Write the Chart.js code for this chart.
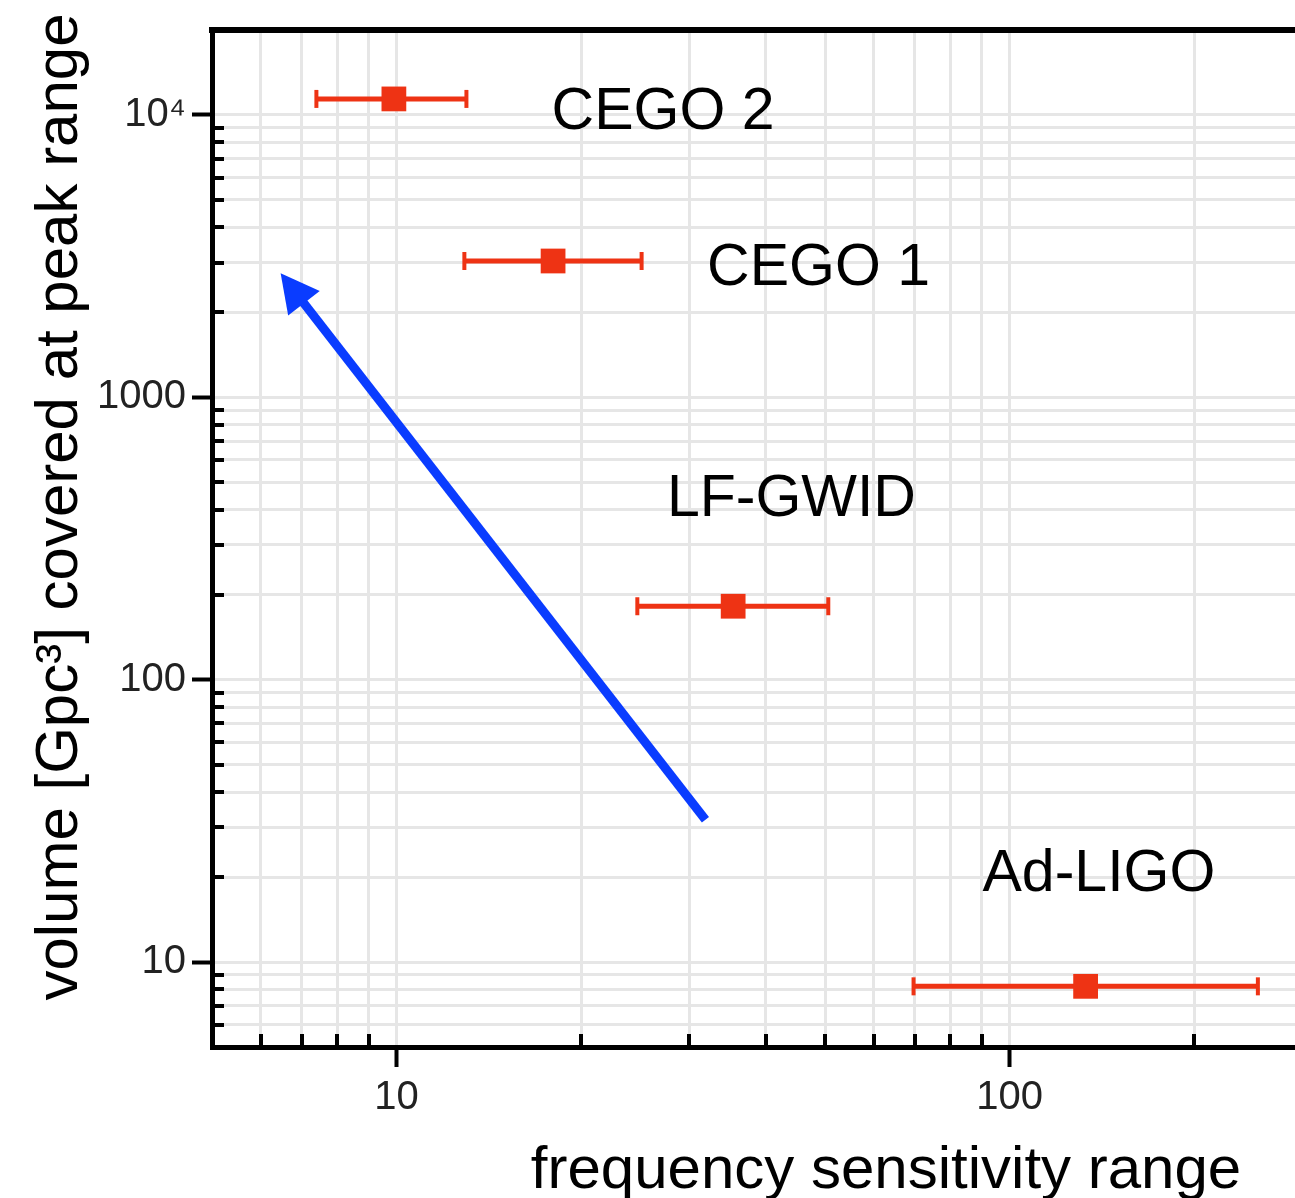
<!DOCTYPE html>
<html>
<head>
<meta charset="utf-8">
<title>volume vs frequency sensitivity range</title>
<script src="https://cdn.jsdelivr.net/npm/chart.js@4.4.1/dist/chart.umd.min.js"></script>
<style>
  html, body { margin: 0; padding: 0; background: #fff; overflow: hidden; }
  #wrap { width: 1295px; height: 1198px; position: relative; }
</style>
</head>
<body>
<div id="wrap"><canvas id="chart"></canvas></div>
<script>
// ── Data ────────────────────────────────────────────────────────────
const detectors  = ['CEGO 2', 'CEGO 1', 'LF-GWID', 'Ad-LIGO'];
const freqCenter = [9.9, 18.0, 35.4, 133];
const freqLow    = [7.4, 12.9, 24.7, 69.7];
const freqHigh   = [13.0, 25.1, 50.6, 254];
const volume     = [11400, 3040, 182, 8.2];

// text anchor (left edge, baseline) of each detector name, in data units
const labelFreq   = [17.9, 32.1, 27.6, 90.3];
const labelVolume = [8920, 2490, 379, 17.9];

// blue trend arrow: tail -> tip
const arrowFreq   = [31.9, 6.47];
const arrowVolume = [31.9, 2750];

const xTickValues = [10, 100];
const xTickLabels = ['10', '100'];
const yTickValues = [10, 100, 1000, 10000];
const yTickLabels = ['10', '100', '1000', '10\u2074'];

const xTitle = 'frequency sensitivity range';
const yTitle = 'volume [Gpc\u00B3] covered at peak range';

// ── Style ───────────────────────────────────────────────────────────
const RED = '#ee3314';
const BLUE = '#0a3cff';
const GRID = '#e6e6e6';
const FONT = "'Liberation Sans', Arial, sans-serif";

// ── Helpers ─────────────────────────────────────────────────────────
function logTicks(min, max) {
  const out = [];
  for (let d = Math.floor(Math.log10(min)); d <= Math.ceil(Math.log10(max)); d++) {
    for (let m = 1; m <= 9; m++) {
      const v = Number((m * Math.pow(10, d)).toPrecision(6));
      if (v >= min && v <= max) out.push(v);
    }
  }
  return out;
}
const isMajor = (v) => Math.abs(Math.log10(v) - Math.round(Math.log10(v))) < 1e-9;
const labelFor = (vals, labels) => (v) => {
  const i = vals.findIndex(t => Math.abs(t - v) < 1e-6 * t);
  return i < 0 ? '' : labels[i];
};

// ── Datasets ────────────────────────────────────────────────────────
const datasets = detectors.map((name, i) => ({
  label: name + ' range',
  type: 'line',
  data: [{ x: freqLow[i], y: volume[i] }, { x: freqHigh[i], y: volume[i] }],
  borderColor: RED,
  borderWidth: 5,
  pointStyle: 'line',
  rotation: 90,
  pointRadius: 9,
  pointBorderWidth: 4,
  pointBorderColor: RED,
  pointBackgroundColor: RED,
  order: 1,
}));
datasets.push({
  label: 'detectors',
  type: 'scatter',
  data: detectors.map((_, i) => ({ x: freqCenter[i], y: volume[i] })),
  pointStyle: 'rect',
  pointRadius: 17.5,
  borderWidth: 0,
  backgroundColor: RED,
  borderColor: RED,
  order: 0,
});

// ── Overlay: arrow, names, inner minor ticks, titles ────────────────
const overlay = {
  id: 'overlay',
  afterDatasetsDraw(chart) {
    const { ctx, scales: { x, y } } = chart;
    const x0 = x.getPixelForValue(arrowFreq[0]), y0 = y.getPixelForValue(arrowVolume[0]);
    const x1 = x.getPixelForValue(arrowFreq[1]), y1 = y.getPixelForValue(arrowVolume[1]);
    const len = Math.hypot(x1 - x0, y1 - y0);
    const ux = (x1 - x0) / len, uy = (y1 - y0) / len;
    const headLen = 38, headHalf = 20;
    const bx = x1 - ux * headLen, by = y1 - uy * headLen;
    ctx.save();
    ctx.strokeStyle = BLUE;
    ctx.lineWidth = 9;
    ctx.lineCap = 'butt';
    ctx.beginPath();
    ctx.moveTo(x0, y0);
    ctx.lineTo(bx + ux * 2, by + uy * 2);
    ctx.stroke();
    ctx.fillStyle = BLUE;
    ctx.beginPath();
    ctx.moveTo(x1, y1);
    ctx.lineTo(bx - uy * headHalf, by + ux * headHalf);
    ctx.lineTo(bx + uy * headHalf, by - ux * headHalf);
    ctx.closePath();
    ctx.fill();
    ctx.restore();
  },
  afterDraw(chart) {
    const { ctx, chartArea: a, scales: { x, y } } = chart;
    ctx.save();

    // top frame line
    ctx.strokeStyle = '#000';
    ctx.lineWidth = 6;
    ctx.beginPath();
    ctx.moveTo(a.left - 3, a.top);
    ctx.lineTo(chart.width, a.top);
    ctx.stroke();

    // minor ticks, pointing into the plot
    ctx.lineWidth = 4;
    ctx.beginPath();
    y.ticks.forEach(t => {
      if (isMajor(t.value) || t.value <= y.min || t.value >= y.max) return;
      const py = Math.round(y.getPixelForValue(t.value));
      ctx.moveTo(a.left, py);
      ctx.lineTo(a.left + 12, py);
    });
    x.ticks.forEach(t => {
      if (isMajor(t.value) || t.value <= x.min || t.value >= x.max) return;
      const px = Math.round(x.getPixelForValue(t.value));
      ctx.moveTo(px, a.bottom);
      ctx.lineTo(px, a.bottom - 13);
    });
    ctx.stroke();

    // detector names
    ctx.fillStyle = '#000';
    ctx.font = '59px ' + FONT;
    ctx.textAlign = 'left';
    ctx.textBaseline = 'alphabetic';
    detectors.forEach((name, i) => {
      ctx.fillText(name, x.getPixelForValue(labelFreq[i]), y.getPixelForValue(labelVolume[i]));
    });

    // axis titles
    ctx.font = '60px ' + FONT;
    ctx.textAlign = 'center';
    ctx.fillText(xTitle, 886, 1188);
    ctx.translate(77, 507);
    ctx.rotate(-Math.PI / 2);
    ctx.fillText(yTitle, 0, 0);
    ctx.restore();
  },
};

// ── Chart ───────────────────────────────────────────────────────────
const tickColor = (c) => (c.tick && isMajor(c.tick.value) ? '#000' : 'rgba(0,0,0,0)');

new Chart(document.getElementById('chart'), {
  type: 'scatter',
  data: { datasets },
  plugins: [overlay],
  options: {
    responsive: true,
    maintainAspectRatio: false,
    animation: false,
    devicePixelRatio: 1,
    layout: { autoPadding: false, padding: { top: 28, right: 0, bottom: 0, left: 0 } },
    plugins: { legend: { display: false }, tooltip: { enabled: false } },
    scales: {
      x: {
        type: 'logarithmic',
        min: 5,
        max: 292,
        afterBuildTicks: (s) => { s.ticks = logTicks(5, 292).map(v => ({ value: v })); },
        afterFit: (s) => { s.height = 151; s.paddingLeft = 0; s.paddingRight = 0; },
        border: { color: '#000', width: 5 },
        grid: { color: GRID, lineWidth: 3, tickLength: 20, tickWidth: 4, tickColor },
        ticks: {
          autoSkip: false, maxRotation: 0, padding: 7,
          color: '#222', font: { family: FONT, size: 40 },
          callback: labelFor(xTickValues, xTickLabels),
        },
      },
      y: {
        type: 'logarithmic',
        min: 5,
        max: 20000,
        afterBuildTicks: (s) => { s.ticks = logTicks(5, 20000).map(v => ({ value: v })); },
        afterFit: (s) => { s.width = 212; },
        border: { color: '#000', width: 5 },
        grid: { color: GRID, lineWidth: 3, tickLength: 20, tickWidth: 4, tickColor },
        ticks: {
          autoSkip: false, padding: 6,
          color: '#222', font: { family: FONT, size: 40 },
          callback: labelFor(yTickValues, yTickLabels),
        },
      },
    },
  },
});
</script>
</body>
</html>
